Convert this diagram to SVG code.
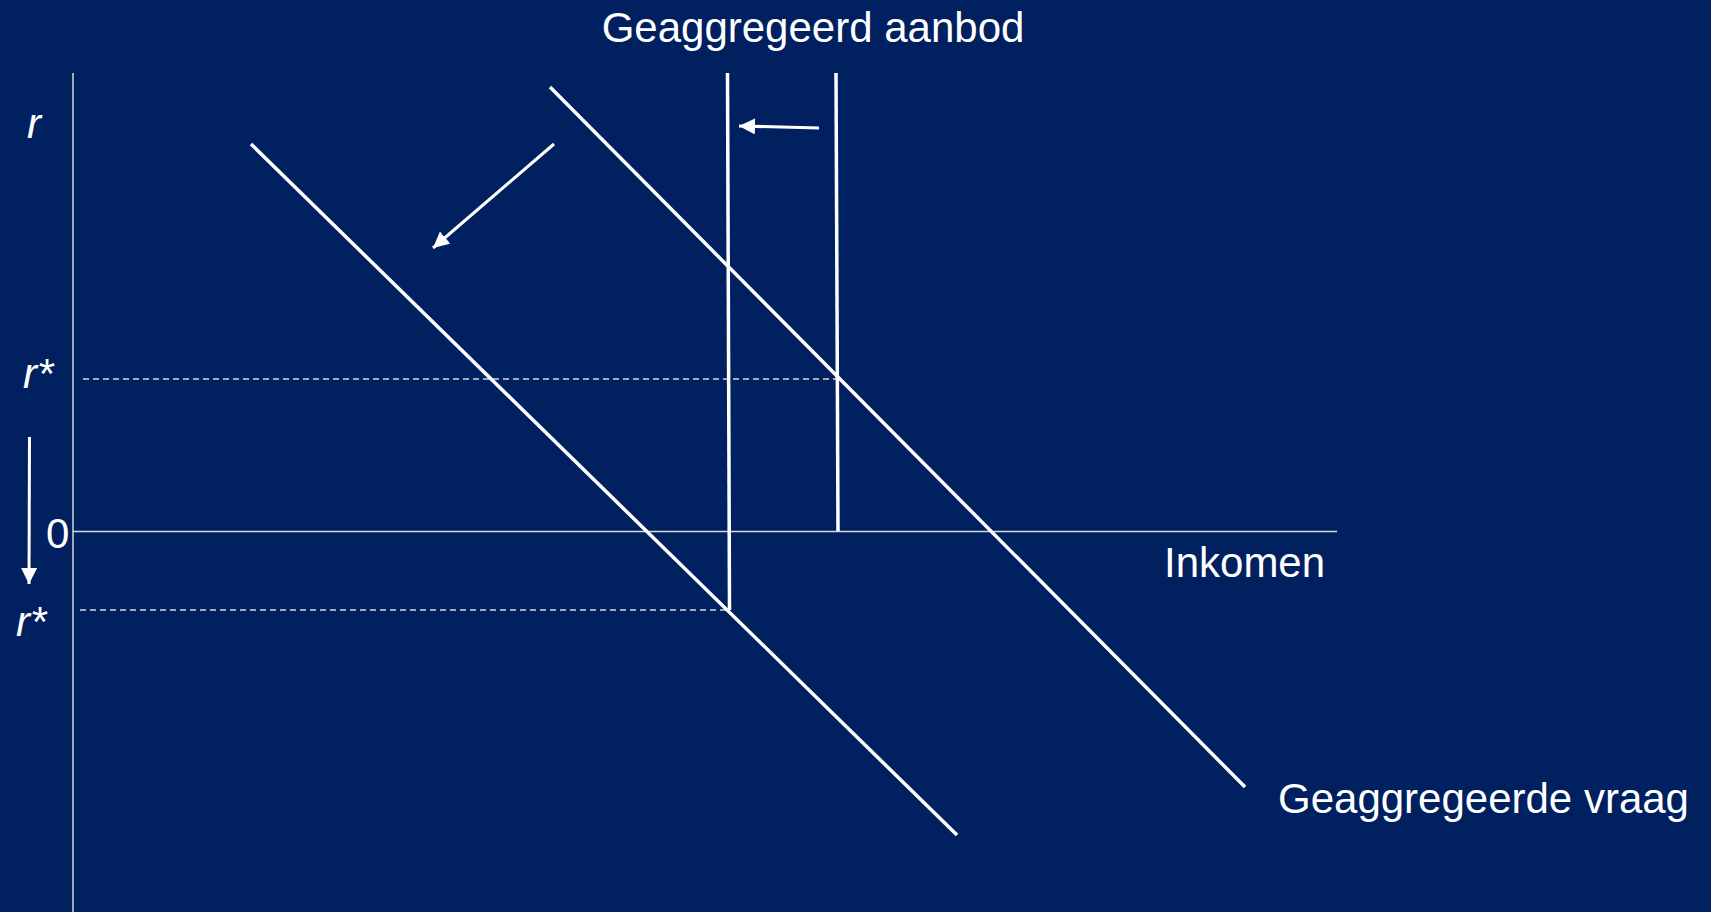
<svg xmlns="http://www.w3.org/2000/svg" width="1711" height="912" viewBox="0 0 1711 912">
<style>
.bg{fill:#002060}
.axis{stroke:#d9d9d9;stroke-width:1.5;fill:none}
.dash{stroke:#d9d9d9;stroke-width:1.5;stroke-dasharray:6 4;fill:none}
.curve{stroke:#ffffff;stroke-width:3.5;fill:none}
.arrow{stroke:#ffffff;stroke-width:3;fill:none;marker-end:url(#ah)}
.t{font-family:"Liberation Sans",Arial,sans-serif;font-size:42px;fill:#ffffff}
.i{font-style:italic}
</style>
<defs>
<marker id="ah" markerUnits="userSpaceOnUse" markerWidth="18" markerHeight="16" refX="16" refY="8" orient="auto">
<path d="M0,0 L16,8 L0,16 Z" fill="#ffffff"/>
</marker>
</defs>
<rect class="bg" x="0" y="0" width="1711" height="912"/>
<g id="axes">
<line class="axis" x1="73" y1="73" x2="73" y2="912"/>
<line class="axis" x1="73" y1="531.5" x2="1337" y2="531.5"/>
</g>
<g id="connectors">
<line class="dash" x1="83" y1="379" x2="836" y2="379"/>
<line class="dash" x1="80" y1="610" x2="726" y2="610"/>
<line class="arrow" x1="29.5" y1="437" x2="29" y2="584"/>
<line class="arrow" x1="819" y1="128" x2="739" y2="126"/>
<line class="arrow" x1="554" y1="144" x2="433" y2="248"/>
</g>
<g id="supply-old"><line class="curve" x1="836" y1="73" x2="838" y2="531"/></g>
<g id="supply-new"><line class="curve" x1="727.5" y1="73" x2="729.5" y2="610"/></g>
<g id="demand-old"><line class="curve" x1="550" y1="87" x2="1245" y2="787"/></g>
<g id="demand-new"><line class="curve" x1="251" y1="144" x2="957" y2="835"/></g>
<g id="labels">
<text class="t" x="813" y="42" text-anchor="middle">Geaggregeerd aanbod</text>
<text class="t i" x="27" y="138">r</text>
<text class="t i" x="23" y="388">r*</text>
<text class="t" x="46" y="548">0</text>
<text class="t i" x="16" y="636">r*</text>
<text class="t" x="1164" y="577">Inkomen</text>
<text class="t" x="1278" y="813">Geaggregeerde vraag</text>
</g>
</svg>
